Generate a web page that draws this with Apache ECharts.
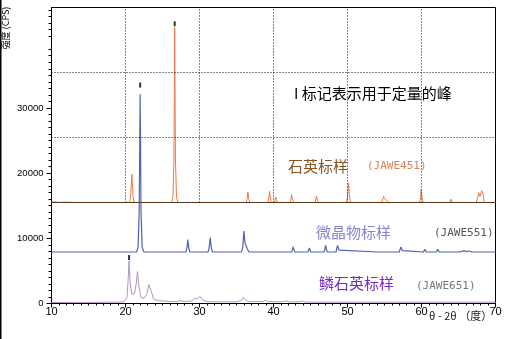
<!DOCTYPE html>
<html>
<head>
<meta charset="utf-8">
<script src="https://cdn.jsdelivr.net/npm/echarts@6/dist/echarts.min.js"></script>
<style>
html,body{margin:0;padding:0;background:#fff;}
#c{width:522px;height:339px;}
</style>
</head>
<body>
<div id="c"></div>
<script>
// ---- data ----
const xTickLabels = [10, 20, 30, 40, 50, 60, 70];
const yTickLabels = [0, 10000, 20000, 30000];

// 石英标样 (JAWE451), baseline ~15500
const quartz = [
  [10,15550],[10.5,15600],[11,15500],[12,15550],[13,15500],[14,15500],[20,15500],
  [20.55,15500],[20.7,16600],[20.86,19800],[21.0,16600],[21.15,15500],
  [26.2,15500],[26.4,16200],[26.55,22000],[26.65,42300],[26.75,22000],[26.9,16200],[27.1,15500],
  [36.3,15500],[36.45,16100],[36.54,17100],[36.65,16100],[36.8,15500],
  [39.25,15500],[39.4,16400],[39.47,17200],[39.55,16400],[39.7,15500],
  [40.1,15500],[40.22,15900],[40.3,16350],[40.4,15900],[40.5,15500],
  [42.25,15500],[42.38,16100],[42.45,16700],[42.55,16100],[42.7,15500],
  [45.6,15500],[45.72,16000],[45.8,16500],[45.9,16000],[46.05,15500],
  [49.9,15500],[50.02,16600],[50.14,18500],[50.26,16600],[50.4,15500],
  [54.6,15500],[54.75,16000],[54.87,16450],[55.0,16100],[55.3,15800],[55.6,15500],
  [57.1,15500],[57.25,15700],[57.4,15500],
  [59.75,15500],[59.88,16400],[59.96,17500],[60.05,16400],[60.2,15500],
  [63.85,15500],[64.0,16000],[64.15,15500],
  [65.7,15500],[65.8,15700],[65.9,15500],
  [67.4,15500],[67.6,16300],[67.74,17000],[67.9,16400],[68.14,17300],[68.3,16800],[68.5,15500],[70,15500]
];

// 微晶物标样 (JAWE551), baseline ~7900
const cristobalite = [
  [10,7900],[21.5,7900],[21.7,8600],[21.85,14000],[21.98,32100],[22.1,14000],[22.25,8600],[22.5,7900],
  [25.2,7900],[25.3,8100],[25.4,7900],
  [28.15,7900],[28.3,8500],[28.42,9800],[28.55,8500],[28.7,7900],
  [31.15,7900],[31.3,8500],[31.45,10100],[31.6,8500],[31.75,7900],
  [35.7,7900],[35.85,8700],[36.0,11100],[36.15,9300],[36.3,9100],[36.45,8400],[36.7,7900],
  [42.45,7900],[42.58,8300],[42.65,8700],[42.75,8300],[42.9,7900],
  [44.65,7900],[44.85,8500],[45.05,7900],
  [46.85,7900],[47.05,8900],[47.25,7900],
  [48.45,7900],[48.65,8900],[48.85,8200],[49.1,7900],
  [54.1,7900],[54.3,8150],[54.5,7900],
  [57.0,7900],[57.2,8650],[57.45,8100],[57.7,7900],
  [60.25,7900],[60.45,8300],[60.65,7900],
  [62.0,7900],[62.2,8300],[62.4,7900],
  [65.0,7900],[65.2,8200],[65.4,7950],[65.8,8100],[66.1,7950],[66.5,8050],[66.8,7900],
  [68.5,7900],[68.7,8150],[68.9,7900],[70,7900]
];

// 鳞石英标样 (JAWE651), baseline ~200
const tridymite = [
  [10,150],[19,200],[19.8,300],[20.2,900],[20.35,3500],[20.48,6500],[20.62,3200],[20.85,1400],
  [21.2,1500],[21.45,3000],[21.62,4900],[21.8,2600],[22.1,900],[22.5,800],[22.9,1500],
  [23.15,2900],[23.3,3100],[23.5,1800],[23.8,700],[24.3,450],[25,400],[26,300],[27,300],
  [27.5,450],[28,300],[29,400],[29.4,800],[29.7,700],[30.05,1100],[30.4,600],[31,300],
  [32.4,250],[32.6,450],[32.8,250],[35,250],[35.7,500],[35.9,950],[36.2,600],[36.6,300],
  [38.6,300],[38.9,500],[39.2,300],[40,250],[41.4,300],[41.7,450],[42,250],[43.5,250],
  [43.8,380],[44.1,250],[45,200],[70,200]
];

// "I" markers above the peaks used for quantification
const peakMarkers = [[26.65,42900],[21.98,33500],[20.48,7050]];

// dotted inner grid of the upper panel
const gridXs = [20, 30, 40, 50, 60];
const gridYs = [25480, 35450];
const upperBottom = 15500, upperTop = 45400;

const CJK = '"Noto Sans CJK SC", sans-serif';

const dotted = { color: '#111', width: 1, type: [1, 2] };
const markData = [];
gridXs.forEach(x => markData.push([{ coord: [x, upperBottom], lineStyle: dotted }, { coord: [x, upperTop] }]));
gridYs.forEach(y => markData.push([{ coord: [10, y], lineStyle: dotted }, { coord: [70, y] }]));
markData.push([{ coord: [10, upperBottom], lineStyle: { color: '#5a3a1e', width: 1, type: 'solid' } }, { coord: [70, upperBottom] }]);

const chart = echarts.init(document.getElementById('c'), null, { renderer: 'canvas' });
chart.setOption({
  animation: false,
  backgroundColor: '#fff',
  grid: { left: 51.5, right: 26.5, top: 7.5, bottom: 35.5, show: true, borderColor: '#000', borderWidth: 1, backgroundColor: 'transparent' },
  xAxis: {
    type: 'value', min: 10, max: 70, interval: 10,
    axisLine: { lineStyle: { color: '#000', width: 1 } },
    axisTick: { length: 4, lineStyle: { color: '#000' } },
    minorTick: { show: true, splitNumber: 10, length: 2, lineStyle: { color: '#000' } },
    splitLine: { show: false },
    axisLabel: {
      color: '#000', fontSize: 11, margin: 3, fontFamily: 'Liberation Sans',
      customValues: xTickLabels
    }
  },
  yAxis: {
    type: 'value', min: 0, max: 45400, interval: 10000,
    axisLine: { show: true, lineStyle: { color: '#000', width: 1 } },
    axisTick: { show: true, length: 5, lineStyle: { color: '#000' }, customValues: yTickLabels },
    minorTick: { show: true, splitNumber: 10, length: 3, lineStyle: { color: '#000' } },
    splitLine: { show: false },
    axisLabel: {
      color: '#000', fontSize: 9.5, margin: 8, fontFamily: 'Liberation Sans',
      customValues: yTickLabels,
      formatter: v => (v > 30000 ? '' : String(v))
    }
  },
  series: [
    {
      name: '石英标样', type: 'line', data: quartz, symbol: 'none', z: 3,
      lineStyle: { color: '#ec7a4c', width: 1 },
      markLine: { silent: true, symbol: 'none', label: { show: false }, animation: false, data: markData }
    },
    {
      name: '微晶物标样', type: 'line', data: cristobalite, symbol: 'none', z: 4,
      lineStyle: { color: '#5362ae', width: 1.2 }
    },
    {
      name: '鳞石英标样', type: 'line', data: tridymite, symbol: 'none', z: 2,
      lineStyle: { color: '#b393c4', width: 1 }
    },
    {
      name: 'markers', type: 'scatter', data: peakMarkers, symbol: 'rect', symbolSize: [2, 5], z: 5,
      itemStyle: { color: '#000' }
    }
  ],
  graphic: [
    { type: 'rect', shape: { x: 0, y: 0, width: 1.5, height: 339 }, style: { fill: '#000' } },
    { type: 'text', x: 5.5, y: 28, rotation: Math.PI / 2,
      style: { text: '强度 (CPS)', font: '9px ' + CJK, fill: '#000', textAlign: 'center', textVerticalAlign: 'middle' } },
    { type: 'text', x: 294, y: 93,
      style: { text: 'I 标记表示用于定量的峰', font: '15px ' + CJK, fill: '#000', textVerticalAlign: 'middle' } },
    { type: 'text', x: 288, y: 166,
      style: { text: '石英标样', font: '15px ' + CJK, fill: '#8a5524', textVerticalAlign: 'middle' } },
    { type: 'text', x: 367, y: 166,
      style: { text: '(JAWE451)', font: '11px "DejaVu Sans Mono", monospace', fill: '#d4835a', textVerticalAlign: 'middle' } },
    { type: 'text', x: 316, y: 232,
      style: { text: '微晶物标样', font: '15px ' + CJK, fill: '#8585d2', textVerticalAlign: 'middle' } },
    { type: 'text', x: 434, y: 233,
      style: { text: '(JAWE551)', font: '11px "DejaVu Sans Mono", monospace', fill: '#555', textVerticalAlign: 'middle' } },
    { type: 'text', x: 319, y: 283,
      style: { text: '鳞石英标样', font: '15px ' + CJK, fill: '#7a2cc0', textVerticalAlign: 'middle' } },
    { type: 'text', x: 416, y: 286,
      style: { text: '(JAWE651)', font: '11px "DejaVu Sans Mono", monospace', fill: '#777', textVerticalAlign: 'middle' } },
    { type: 'text', x: 429, y: 316,
      style: { text: 'θ - 2θ （度）', font: '11px ' + CJK, fill: '#222', textVerticalAlign: 'middle' } }
  ]
});
</script>
</body>
</html>
